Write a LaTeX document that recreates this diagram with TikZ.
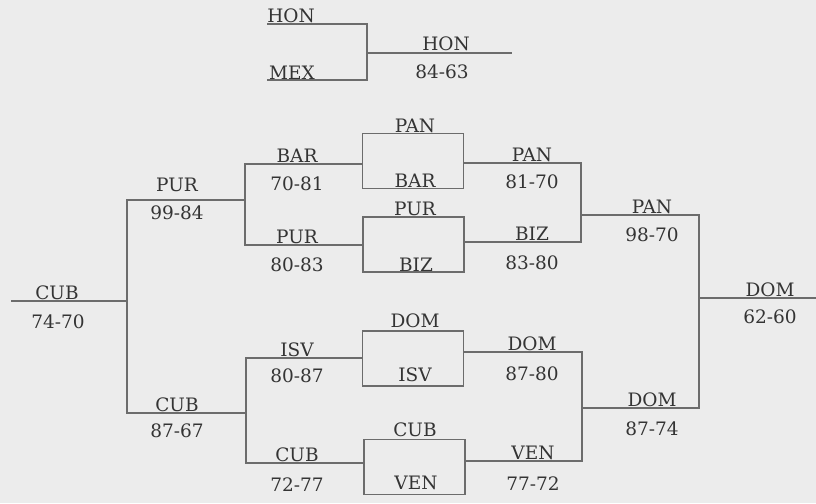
\documentclass[tikz,border=0pt]{standalone}
\usepackage{fontspec}
\setmainfont{DejaVu Serif}
\definecolor{bg}{HTML}{ECECEC}
\definecolor{ln}{HTML}{6C6C6C}
\definecolor{tx}{HTML}{343434}
\begin{document}
\begin{tikzpicture}[x=1pt,y=-1pt,
  br/.style={draw=ln,line width=1.6pt},
  lbl/.style={anchor=base,inner sep=0pt,text=tx,font=\fontsize{18.5}{19}\selectfont},
  gbox/.style={draw=ln,line width=1.6pt,minimum width=101pt,minimum height=55pt,inner sep=0pt}]
\fill[bg] (0,0) rectangle (816,503);
\useasboundingbox (0,0) rectangle (816,503);
% ---- top bracket
\coordinate (h1a) at (267,24); \coordinate (h1b) at (367,24);
\coordinate (m1a) at (267,80); \coordinate (m1b) at (367,80);
\coordinate (hj) at (367,53); \coordinate (hout) at (512,53);
\draw[br] (h1a) -- (h1b) -- (m1b) -- (m1a);
\draw[br] (hj) -- (hout);
\node[lbl] (tHON) at (291,23) {HON};
\node[lbl] (tMEX) at (292,79) {MEX};
\node[lbl] (tHONw) at (446,51) {HON};
\node[lbl] (tHONs) at (442,78) {84-63};
% ---- boxes
\node[gbox] (b1) at (413,161) {};
\node[gbox] (b2) at (413.5,244.5) {};
\node[gbox] (b3) at (413,358.5) {};
\node[gbox] (b4) at (414.5,467) {};
\node[lbl] (b1t) at (415,132.5) {PAN};
\node[lbl] (b1b) at (415,187.5) {BAR};
\node[lbl] (b2t) at (415,215) {PUR};
\node[lbl] (b2b) at (416,271) {BIZ};
\node[lbl] (b3t) at (415,327) {DOM};
\node[lbl] (b3b) at (415,381) {ISV};
\node[lbl] (b4t) at (415,436) {CUB};
\node[lbl] (b4b) at (416,489) {VEN};
% ---- left half
\coordinate (c0) at (11,301); \coordinate (c0j) at (127,301);
\coordinate (pur1) at (127,200); \coordinate (pur1e) at (245,200);
\coordinate (cub1) at (127,413); \coordinate (cub1e) at (246,413);
\coordinate (bar1) at (245,164); \coordinate (pur2) at (245,245);
\coordinate (isv1) at (246,358); \coordinate (cub2) at (246,463);
\draw[br] (c0) -- (c0j);
\draw[br] (pur1e) -- (pur1) -- (cub1) -- (cub1e);
\draw[br] (b1.west |- bar1) -- (bar1) -- (pur2) -- (b2.west |- pur2);
\draw[br] (b3.west |- isv1) -- (isv1) -- (cub2) -- (b4.west |- cub2);
\node[lbl] (lCUB) at (57,299.5) {CUB};
\node[lbl] (sCUB) at (58,328) {74-70};
\node[lbl] (lPUR) at (177,191) {PUR};
\node[lbl] (sPUR) at (177,219) {99-84};
\node[lbl] (lCUB2) at (177,411.5) {CUB};
\node[lbl] (sCUB2) at (177,437) {87-67};
\node[lbl] (lBAR) at (297,162.5) {BAR};
\node[lbl] (sBAR) at (297,190) {70-81};
\node[lbl] (lPUR2) at (297,243.5) {PUR};
\node[lbl] (sPUR2) at (297,271) {80-83};
\node[lbl] (lISV) at (297,356) {ISV};
\node[lbl] (sISV) at (297,382) {80-87};
\node[lbl] (lCUB3) at (297,461.5) {CUB};
\node[lbl] (sCUB3) at (297,491) {72-77};
% ---- right half
\coordinate (pan1) at (581,163); \coordinate (biz1) at (581,242);
\coordinate (pan2) at (581,215); \coordinate (pan2e) at (699,215);
\coordinate (dom1) at (582,352); \coordinate (ven1) at (582,461);
\coordinate (dom2) at (582,408); \coordinate (dom2e) at (699,408);
\coordinate (domj) at (699,298); \coordinate (dome) at (816,298);
\draw[br] (b1.east |- pan1) -- (pan1) -- (biz1) -- (b2.east |- biz1);
\draw[br] (b3.east |- dom1) -- (dom1) -- (ven1) -- (b4.east |- ven1);
\draw[br] (pan2) -- (pan2e) -- (dom2e) -- (dom2);
\draw[br] (domj) -- (dome);
\node[lbl] (rPAN) at (532,161.5) {PAN};
\node[lbl] (rsPAN) at (532,188) {81-70};
\node[lbl] (rBIZ) at (532,240.5) {BIZ};
\node[lbl] (rsBIZ) at (532,269) {83-80};
\node[lbl] (rDOM) at (532,350.5) {DOM};
\node[lbl] (rsDOM) at (532,380) {87-80};
\node[lbl] (rVEN) at (533,459.5) {VEN};
\node[lbl] (rsVEN) at (533,490) {77-72};
\node[lbl] (fPAN) at (652,213.5) {PAN};
\node[lbl] (fsPAN) at (652,241) {98-70};
\node[lbl] (fDOM) at (652,406.5) {DOM};
\node[lbl] (fsDOM) at (652,435) {87-74};
\node[lbl] (gDOM) at (770,296.5) {DOM};
\node[lbl] (gsDOM) at (770,323) {62-60};
\end{tikzpicture}
\end{document}
